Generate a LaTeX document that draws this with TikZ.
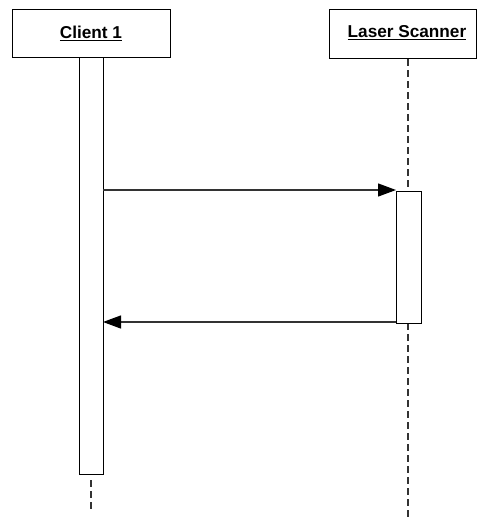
\documentclass[tikz,border=0pt]{standalone}
\usepackage{fontspec}
\setmainfont{Liberation Sans}
\usetikzlibrary{arrows.meta}
\tikzset{
  objbox/.style={draw=black, line width=1pt, fill=white, inner sep=0pt},
  actbar/.style={draw=black, line width=1pt, fill=white, inner sep=0pt},
  lifeline/.style={draw=black!80, line width=1.2pt, dash pattern=on 7pt off 4pt},
  msg/.style={draw=black!80, line width=1.3pt, -{Triangle[length=18pt,width=13pt,fill=black,color=black]}},
  lbl/.style={font=\fontsize{17.2}{19}\selectfont\bfseries}
}
\begin{document}
\begin{tikzpicture}[x=1pt,y=-1pt]
\useasboundingbox (0,0) rectangle (478,517);
% lifelines
\coordinate (cl) at (91,480);
\coordinate (clend) at (91,510);
\coordinate (ll) at (408,59);
\coordinate (llend) at (408,517);
\draw[lifeline] (cl) -- (clend);
\draw[lifeline] (ll) -- (llend);
% object boxes
\node[objbox, minimum width=158pt, minimum height=48pt] (client) at (91,33) {};
\node[lbl] (clientlbl) at (91,33) {\underline{Client 1}};
\node[objbox, minimum width=147pt, minimum height=49pt] (laser) at (402.5,33.5) {};
\node[lbl] (laserlbl) at (407,33) {\underline{Laser Scanner}};
% activation bars
\node[actbar, minimum width=24pt, minimum height=417pt] (cbar) at (91,265.5) {};
\node[actbar, minimum width=25pt, minimum height=132pt] (lbar) at (408.5,257) {};
% messages
\coordinate (m1s) at (103,190);
\coordinate (m1e) at (396,190);
\coordinate (m2s) at (396,322);
\coordinate (m2e) at (103,322);
\draw[msg] (m1s) -- (m1e);
\draw[msg] (m2s) -- (m2e);
\end{tikzpicture}
\end{document}
